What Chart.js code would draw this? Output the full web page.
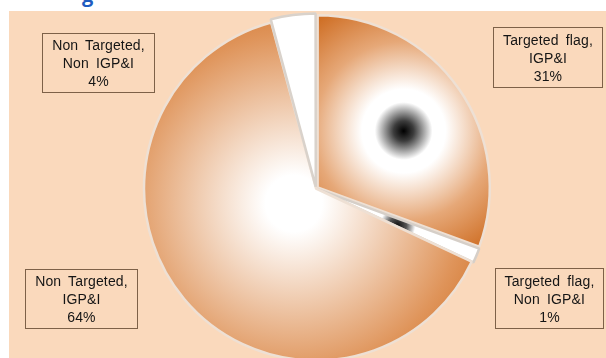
<!DOCTYPE html>
<html><head><meta charset="utf-8">
<script src="https://cdn.jsdelivr.net/npm/chart.js@4"></script>
<style>
html,body{margin:0;padding:0;background:#fff;width:606px;height:358px;overflow:hidden;position:relative;}
#bg{position:absolute;left:9px;top:11px;width:597px;height:347px;background:#fad9bc;}
#wrap{position:absolute;left:0;top:0;width:606px;height:358px;}
.lbl{position:absolute;box-sizing:border-box;border:1px solid #7d6148;display:flex;flex-direction:column;justify-content:center;align-items:center;font-family:"Liberation Sans",Arial,sans-serif;font-size:14px;line-height:18px;color:#151515;letter-spacing:0.15px;word-spacing:3px;text-align:center;white-space:nowrap;}
#ttl{position:absolute;left:82px;top:-17px;font-family:"Open Sans",sans-serif;font-weight:bold;color:#1f5cc0;font-size:20px;line-height:24px;}
</style></head><body>
<div id="bg"></div>
<div id="ttl">g</div>
<div id="wrap"><canvas id="c" width="606" height="358"></canvas></div>
<div id="labels"></div>
<script>
// ---- data ----
const categories = ["Targeted flag, IGP&I", "Targeted flag, Non IGP&I", "Non Targeted, IGP&I", "Non Targeted, Non IGP&I"];
const labelLines = [["Targeted flag,", "IGP&I"], ["Targeted flag,", "Non IGP&I"], ["Non Targeted,", "IGP&I"], ["Non Targeted,", "Non IGP&I"]];
const shares = [30.6, 1.4, 63.8, 4.2];

// ---- layout / style (kept separate from data) ----
const labelBoxes = [
  {left: 493, top: 27, width: 110, height: 61},
  {left: 495, top: 268, width: 109, height: 61},
  {left: 25, top: 269, width: 113, height: 60},
  {left: 42, top: 33, width: 113, height: 60}
];
const sliceOffsets = [8, 4, 0, 7];
const sliceBorders = ['#eee0d4', '#d6cfc8', '#eee0d4', '#d9d2cb'];
const gradShift = [[0, 0], [0, 0], [-14, 12], [0, 0]];
const stopSets = [
  [[0, '#000000'], [0.07, '#3c3c3c'], [0.2, '#ffffff'], [0.29, '#ffffff'], [0.62, '#e6a878'], [1, '#cd6a1e']],
  [[0, '#111111'], [0.1, '#555555'], [0.2, '#ffffff'], [1, '#ffffff']],
  [[0, '#ffffff'], [0.12, '#ffffff'], [0.72, '#df945a'], [1, '#cd6a1e']],
  [[0, '#ffffff'], [1, '#ffffff']]
];

const gradPlugin = {
  id: 'grad',
  beforeDatasetsDraw(chart) {
    const meta = chart.getDatasetMeta(0);
    const g = chart.ctx;
    meta.data.forEach((arc, i) => {
      const r = arc.outerRadius;
      const s = arc.startAngle, e = arc.endAngle;
      const pts = [[arc.x, arc.y], [arc.x + r * Math.cos(s), arc.y + r * Math.sin(s)], [arc.x + r * Math.cos(e), arc.y + r * Math.sin(e)]];
      for (let k = -4; k <= 8; k++) {
        const a = k * Math.PI / 2;
        if (a > s && a < e) pts.push([arc.x + r * Math.cos(a), arc.y + r * Math.sin(a)]);
      }
      const xs = pts.map(p => p[0]), ys = pts.map(p => p[1]);
      const x0 = Math.min(...xs), x1 = Math.max(...xs), y0 = Math.min(...ys), y1 = Math.max(...ys);
      const cx = (x0 + x1) / 2 + gradShift[i][0], cy = (y0 + y1) / 2 + gradShift[i][1];
      const R = Math.hypot(x1 - x0, y1 - y0) / 2;
      const gr = g.createRadialGradient(cx, cy, 0, cx, cy, R);
      stopSets[i].forEach(st => gr.addColorStop(st[0], st[1]));
      arc.options.backgroundColor = gr;
    });
  }
};

new Chart(document.getElementById('c'), {
  type: 'pie',
  data: {
    labels: categories,
    datasets: [{
      data: shares,
      backgroundColor: (c) => '#ffffff',
      borderColor: sliceBorders,
      borderWidth: 2.5,
      offset: sliceOffsets,
      radius: 172,
      clip: false
    }]
  },
  options: {
    responsive: false,
    animation: false,
    events: [],
    layout: {padding: {left: 26, top: 19, right: 0, bottom: 0}},
    plugins: {legend: {display: false}, tooltip: {enabled: false}}
  },
  plugins: [gradPlugin]
});

const holder = document.getElementById('labels');
categories.forEach((cat, i) => {
  const d = document.createElement('div');
  d.className = 'lbl';
  const b = labelBoxes[i];
  d.style.left = b.left + 'px'; d.style.top = b.top + 'px';
  d.style.width = b.width + 'px'; d.style.height = b.height + 'px';
  const lines = labelLines[i].concat([Math.round(shares[i]) + '%']);
  lines.forEach(t => { const s = document.createElement('div'); s.textContent = t; d.appendChild(s); });
  holder.appendChild(d);
});
</script>
</body></html>
